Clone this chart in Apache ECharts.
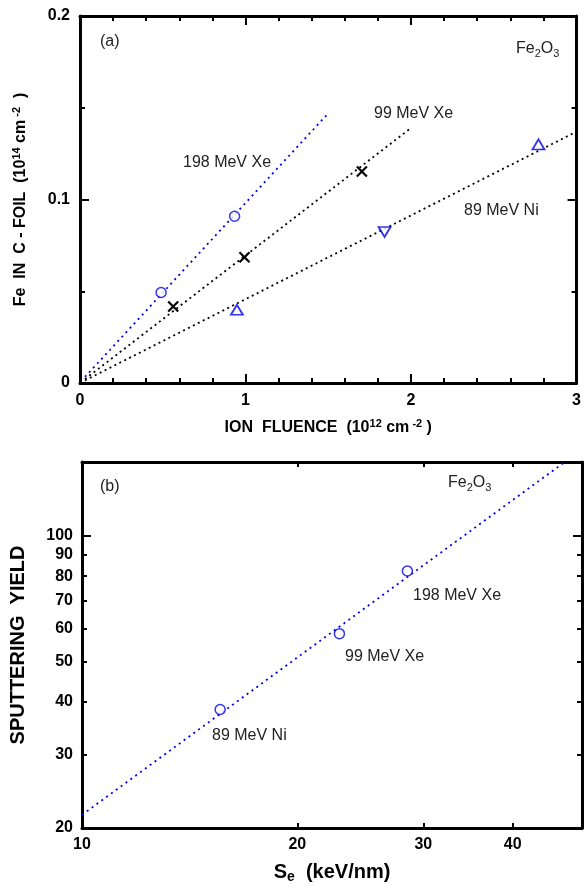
<!DOCTYPE html>
<html>
<head>
<meta charset="utf-8">
<script src="https://cdn.jsdelivr.net/npm/echarts@6/dist/echarts.min.js"></script>
<style>
html, body { margin: 0; padding: 0; background: #fff; }
#main { width: 584px; height: 885px; }
</style>
</head>
<body>
<div id="main"></div>
<script>
// panel (a): Fe on the C-foil vs ion fluence
var xe198Points = [[0.49, 0.0493], [0.934, 0.0909]];
var xe99Points = [[0.563, 0.0417], [0.994, 0.0685], [1.703, 0.1153]];
var ni89Points = [[0.948, 0.0399], [1.84, 0.0823], [2.77, 0.130]];
var xe198Fit = [[0.03, 0.0033], [1.50, 0.147]];
var xe99Fit = [[0.03, 0.0021], [2.0, 0.139]];
var ni89Fit = [[0.03, 0.0014], [3.0, 0.137]];

// panel (b): sputtering yield vs Se, log-log
var seValues = [15.6, 22.9, 28.5];
var yieldValues = [38.4, 58.3, 82.3];
var yieldFitSe = [10, 47.3];
var yieldFitY = [21.5, 150];
var seTicks = [10, 20, 30, 40];
var yieldTicks = [20, 30, 40, 50, 60, 70, 80, 90, 100];

var BLUE = '#0000ee';
var FONT = 'Liberation Sans';
var lg = function (v) { return Math.log10(v); };

var myChart = echarts.init(document.getElementById('main'));

var axisLine = { onZero: false, lineStyle: { color: '#000', width: 3 } };
var tickStyle = { color: '#000', width: 2 };
var tickLabel = { fontSize: 16, fontWeight: 'bold', color: '#000', fontFamily: FONT };
var richName = function (size) {
    return {
        b: { fontSize: size, fontWeight: 'bold', color: '#000', fontFamily: FONT, lineHeight: size + 4 },
        p: { fontSize: Math.round(size * 0.7), fontWeight: 'bold', color: '#000', fontFamily: FONT, lineHeight: 10, verticalAlign: 'top' },
        s: { fontSize: Math.round(size * 0.7), fontWeight: 'bold', color: '#000', fontFamily: FONT, lineHeight: 10, verticalAlign: 'bottom' }
    };
};
var richNote = {
    n: { fontSize: 16, color: '#222', fontFamily: FONT, lineHeight: 20 },
    s: { fontSize: 11, color: '#222', fontFamily: FONT, lineHeight: 10, verticalAlign: 'bottom' }
};

function note(x, y, text) {
    return {
        type: 'text', x: x, y: y,
        style: { text: text, fontSize: 16, fill: '#222', fontFamily: FONT, textVerticalAlign: 'middle', rich: richNote }
    };
}

function linAxis(grid, pos, min, max, interval, split, labels, extra) {
    var a = {
        type: 'value', gridIndex: grid, position: pos, min: min, max: max, interval: interval,
        axisLine: axisLine,
        axisTick: { inside: true, length: 9, lineStyle: tickStyle },
        minorTick: { show: true, splitNumber: split, length: 5, lineStyle: tickStyle },
        splitLine: { show: false }, minorSplitLine: { show: false },
        axisLabel: labels ? Object.assign({ margin: 10 }, tickLabel) : { show: false }
    };
    return Object.assign(a, extra || {});
}

function logAxis(grid, pos, lo, hi, ticks, len, labels, showLine, extra) {
    var vals = ticks.map(lg);
    var a = {
        type: 'value', gridIndex: grid, position: pos, min: lg(lo), max: lg(hi),
        axisLine: showLine ? axisLine : { show: false, onZero: false },
        axisTick: { inside: true, length: len, lineStyle: tickStyle, customValues: vals },
        splitLine: { show: false },
        axisLabel: labels ? Object.assign({
            margin: 9, customValues: vals,
            formatter: function (v) { return String(Math.round(Math.pow(10, v))); }
        }, tickLabel) : { show: false }
    };
    return Object.assign(a, extra || {});
}

var option = {
    animation: false,
    backgroundColor: '#fff',
    grid: [
        { left: 80, top: 16, width: 501, height: 367 },
        { left: 80, top: 462, width: 502, height: 366 }
    ],
    xAxis: [
        linAxis(0, 'bottom', 0, 3, 1, 5, true, {
            name: '{b|ION  FLUENCE  (10}{p|12}{b| cm}{p| -2}{b| )}',
            nameLocation: 'middle', nameGap: 35,
            nameTextStyle: { rich: richName(16) }
        }),
        linAxis(0, 'top', 0, 3, 1, 5, false),
        logAxis(1, 'bottom', 10, 50, seTicks, 5, true, true, {
            name: '{b|S}{s|e}{b|  (keV/nm)}',
            nameLocation: 'middle', nameGap: 32,
            nameTextStyle: { rich: richName(20) }
        }),
        logAxis(1, 'top', 10, 50, seTicks, 5, false, true)
    ],
    yAxis: [
        linAxis(0, 'left', 0, 0.2, 0.1, 2, true, {
            name: '{b|Fe  IN  C - FOIL  (10}{p|14}{b| cm}{p| -2}{b|  )}',
            nameLocation: 'middle', nameGap: 49, nameRotate: 90,
            nameTextStyle: { rich: richName(16) }
        }),
        linAxis(0, 'right', 0, 0.2, 0.1, 2, false),
        logAxis(1, 'left', 20, 150, yieldTicks, 5, true, true, {
            name: '{b|SPUTTERING  YIELD}',
            nameLocation: 'middle', nameGap: 52, nameRotate: 90,
            nameTextStyle: { rich: richName(20) }
        }),
        logAxis(1, 'left', 20, 150, [100], 9, false, false),
        logAxis(1, 'right', 20, 150, yieldTicks, 5, false, true),
        logAxis(1, 'right', 20, 150, [100], 9, false, false)
    ],
    series: [
        {
            type: 'line', xAxisIndex: 0, yAxisIndex: 0, data: xe198Fit, symbol: 'none',
            lineStyle: { color: BLUE, width: 1.8, type: [2, 4] }, z: 2
        },
        {
            type: 'line', xAxisIndex: 0, yAxisIndex: 0, data: xe99Fit, symbol: 'none',
            lineStyle: { color: '#000', width: 1.8, type: [2, 3.5] }, z: 2
        },
        {
            type: 'line', xAxisIndex: 0, yAxisIndex: 0, data: ni89Fit, symbol: 'none',
            lineStyle: { color: '#000', width: 1.8, type: [2, 3.5] }, z: 2
        },
        {
            type: 'scatter', xAxisIndex: 0, yAxisIndex: 0, data: xe198Points,
            symbol: 'circle', symbolSize: 10,
            itemStyle: { color: '#fff', borderColor: BLUE, borderWidth: 1.5 }, z: 3
        },
        {
            type: 'scatter', xAxisIndex: 0, yAxisIndex: 0, data: xe99Points,
            symbol: 'path://M0,0L10,10M10,0L0,10', symbolSize: 10,
            itemStyle: { color: 'none', borderColor: '#000', borderWidth: 2.2, opacity: 1 }, z: 3
        },
        {
            type: 'scatter', xAxisIndex: 0, yAxisIndex: 0,
            data: ni89Points.map(function (p, i) {
                return i === 1 ? { value: p, symbolRotate: 180 } : p;
            }),
            symbol: 'triangle', symbolSize: [12, 10],
            itemStyle: { color: '#fff', borderColor: BLUE, borderWidth: 1.8 }, z: 3
        },
        {
            type: 'line', xAxisIndex: 2, yAxisIndex: 2,
            data: yieldFitSe.map(function (s, i) { return [lg(s), lg(yieldFitY[i])]; }),
            symbol: 'none', lineStyle: { color: BLUE, width: 1.8, type: [2, 4] }, z: 2
        },
        {
            type: 'scatter', xAxisIndex: 2, yAxisIndex: 2,
            data: seValues.map(function (s, i) { return [lg(s), lg(yieldValues[i])]; }),
            symbol: 'circle', symbolSize: 10,
            itemStyle: { color: '#fff', borderColor: BLUE, borderWidth: 1.5 }, z: 3
        }
    ],
    graphic: [
        note(100, 42, '(a)'),
        note(516, 49, '{n|Fe}{s|2}{n|O}{s|3}'),
        note(183, 163, '198 MeV Xe'),
        note(374, 114, '99 MeV Xe'),
        note(464, 211, '89 MeV Ni'),
        note(100, 487, '(b)'),
        note(448, 483, '{n|Fe}{s|2}{n|O}{s|3}'),
        note(413, 596, '198 MeV Xe'),
        note(345, 657, '99 MeV Xe'),
        note(212, 736, '89 MeV Ni')
    ]
};

myChart.setOption(option);
</script>
</body>
</html>
